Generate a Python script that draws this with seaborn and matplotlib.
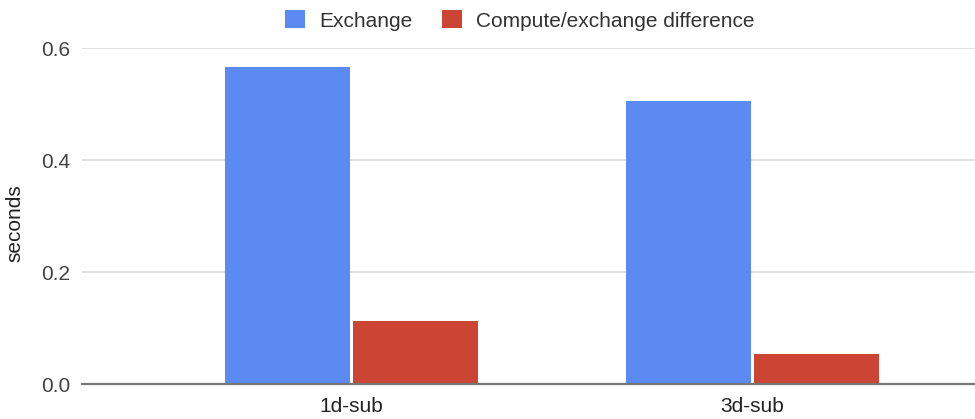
import matplotlib
matplotlib.use("Agg")
import matplotlib.pyplot as plt
import seaborn as sns
import pandas as pd

categories = ["1d-sub", "3d-sub"]
series_names = ["Exchange", "Compute/exchange difference"]
exchange = [0.566, 0.505]
difference = [0.113, 0.053]
y_ticks = [0.0, 0.2, 0.4, 0.6]
y_label = "seconds"

colors = ["#5b8af2", "#cc4434"]

df = pd.DataFrame({
    "category": categories * 2,
    "series": [series_names[0]] * len(categories) + [series_names[1]] * len(categories),
    "value": exchange + difference,
})

sns.set_theme(style="white")
plt.rcParams["font.family"] = ["Liberation Sans", "DejaVu Sans"]

fig = plt.figure(figsize=(9.75, 4.19), dpi=100)
ax = fig.add_axes([82 / 975, 35 / 419, 1 - 82 / 975, (384 - 48.3) / 419])

sns.barplot(data=df, x="category", y="value", hue="series", hue_order=series_names,
            palette=colors, width=0.64, gap=0.025, saturation=1, ax=ax,
            edgecolor="none", linewidth=0, legend=False)

ax.set_xlim(-0.672, 1.555)
ax.set_ylim(0, 0.6)
ax.set_yticks(y_ticks)
ax.set_yticklabels([f"{v:.1f}" for v in y_ticks], fontsize=15, color="#444444")
ax.tick_params(axis="y", length=0, pad=8.5)
ax.tick_params(axis="x", length=0, pad=9, labelsize=15, labelcolor="#222222")
ax.set_xlabel("")
ax.set_ylabel(y_label, fontsize=15, color="#222222")
ax.yaxis.set_label_coords(-0.064, 0.48)

ax.yaxis.grid(True, color="#d9d9d9", linewidth=1.2)
ax.set_axisbelow(True)
for side in ["top", "right", "left"]:
    ax.spines[side].set_visible(False)
ax.spines["bottom"].set_color("#777777")
ax.spines["bottom"].set_linewidth(1.6)
ax.spines["bottom"].set_zorder(5)

handles = [plt.Rectangle((0, 0), 1, 1, facecolor=c, edgecolor="none") for c in colors]
fig.legend(handles, series_names, loc="upper center", bbox_to_anchor=(520 / 975, 1.02),
           ncol=2, frameon=False, fontsize=15, handlelength=0.95, handleheight=0.95,
           handletextpad=0.7, columnspacing=1.4, labelcolor="#333333")

fig.savefig("out.png", dpi=100)
